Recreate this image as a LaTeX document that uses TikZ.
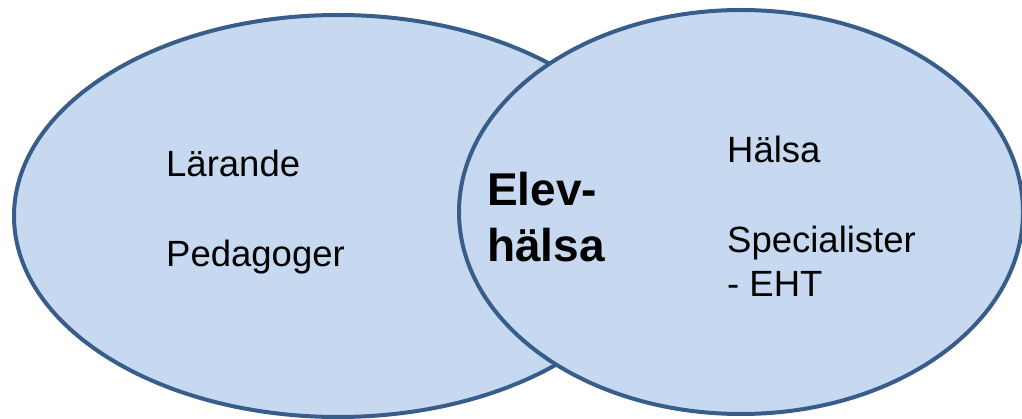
\documentclass[tikz,border=0pt]{standalone}
\usepackage{fontspec}
\setmainfont{Liberation Sans}
\usetikzlibrary{shapes.geometric}
\definecolor{circfill}{HTML}{C6D9F1}
\definecolor{circline}{HTML}{385D8A}
\tikzset{
  venn/.style={ellipse, draw=circline, fill=circfill, line width=4pt, inner sep=0pt, outer sep=0pt},
  lbl/.style={anchor=base west, inner sep=0pt, font=\fontsize{36.5}{44}\selectfont},
  blbl/.style={anchor=base west, inner sep=0pt, font=\fontsize{46}{56}\selectfont\bfseries}
}
\begin{document}
\begin{tikzpicture}[x=1pt,y=-1pt]
\useasboundingbox (0,0) rectangle (1022,419);
\node[venn, minimum width=648pt, minimum height=402pt] (left) at (338,216) {};
\node[venn, minimum width=564pt, minimum height=404pt] (right) at (741,212) {};
\node[lbl] (larande) at (166,177) {Lärande};
\node[lbl] (pedagoger) at (166,267) {Pedagoger};
\node[blbl] (elev) at (487,206) {Elev-};
\node[blbl] (halsa2) at (487,262) {hälsa};
\node[lbl] (halsa) at (727,163) {Hälsa};
\node[lbl] (spec) at (727,253) {Specialister};
\node[lbl] (eht) at (727,297) {- EHT};
\end{tikzpicture}
\end{document}
